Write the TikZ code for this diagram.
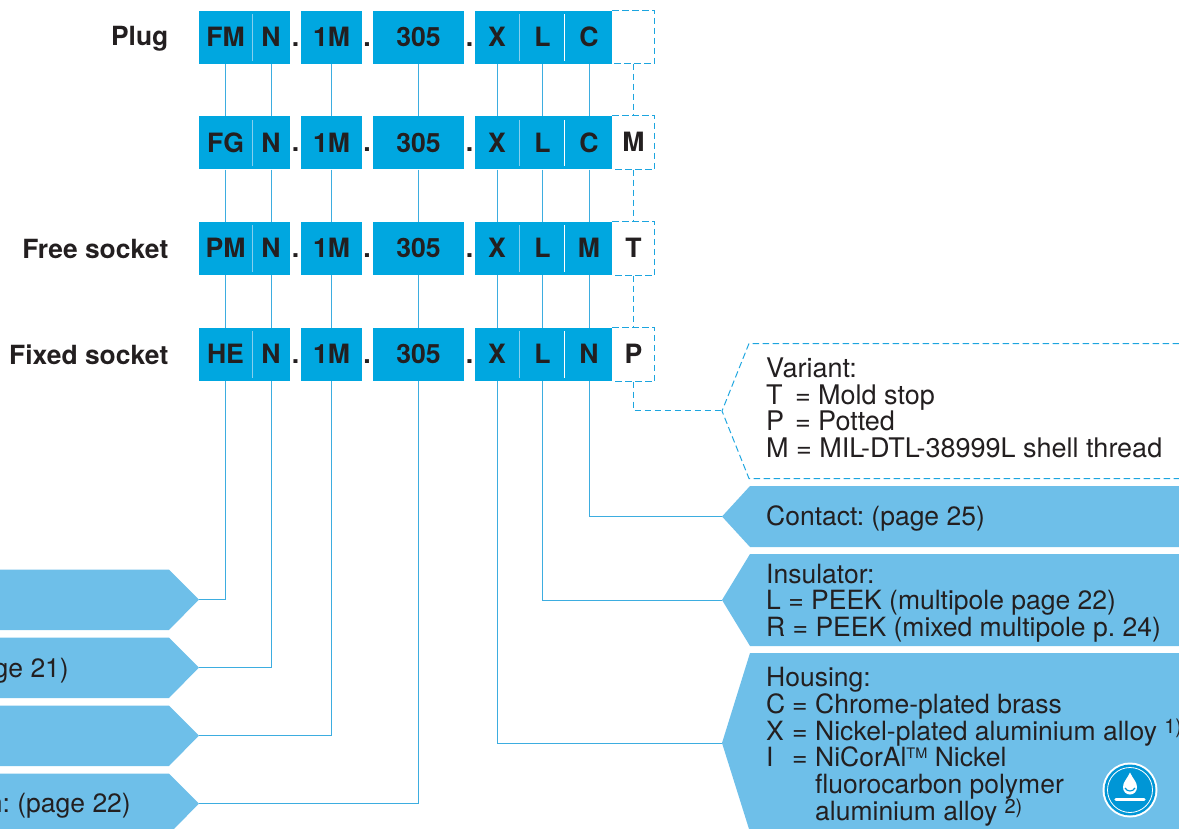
\documentclass[tikz,border=0pt]{standalone}
\usepackage{fontspec}
\setmainfont{TeX Gyre Heros}
\definecolor{boxblue}{HTML}{00A7E0}
\definecolor{tagblue}{HTML}{6EBFE9}
\definecolor{lineblue}{HTML}{3DADE0}
\definecolor{dashblue}{HTML}{1CA5DF}
\definecolor{divlight}{HTML}{86CFEE}
\definecolor{inkdark}{HTML}{231F20}
\definecolor{iconblue}{HTML}{0096D6}
\newcommand{\eqln}[2]{\makebox[26pt][l]{#1}\makebox[23pt][l]{=}#2}
\newcommand{\eqvar}[2]{\makebox[29pt][l]{#1}\makebox[23pt][l]{=}#2}
\newcommand{\supr}[1]{\smash{\raisebox{7pt}{\fontsize{20}{20}\selectfont #1}}}
\newcommand{\suptm}[1]{\smash{\raisebox{8.5pt}{\fontsize{14.5}{15}\selectfont #1}}}
\tikzset{
  cell/.style={fill=boxblue,draw=none,inner sep=0pt,minimum height=53pt,text height=18.5pt,text depth=0pt,
    font=\fontsize{26.6}{27}\selectfont\bfseries,text=inkdark},
  opencell/.style={cell,fill=none},
  dotmark/.style={inner sep=0pt,anchor=base,font=\fontsize{26.6}{27}\selectfont\bfseries,text=inkdark},
  rowlabel/.style={inner sep=0pt,anchor=base east,font=\fontsize{26.4}{27}\selectfont\bfseries,text=inkdark},
  tag/.style={fill=tagblue,draw=none},
  tagtext/.style={inner sep=0pt,anchor=base west,align=left,text=inkdark,font=\frenchspacing\fontsize{26.5}{26.75}\selectfont},
  vartext/.style={tagtext,font=\frenchspacing\fontsize{27}{26.75}\selectfont},
  tagtextr/.style={inner sep=0pt,anchor=base east,text=inkdark,font=\frenchspacing\fontsize{26.5}{26.75}\selectfont},
  wire/.style={draw=lineblue,line width=1pt},
  dashwire/.style={draw=dashblue,line width=1.3pt,dash pattern=on 6.5pt off 3.5pt},
  dashthin/.style={draw=dashblue,line width=1pt,dash pattern=on 6.5pt off 3.5pt},
}
\begin{document}
\begin{tikzpicture}[x=1pt,y=-1pt]
\useasboundingbox (0,0) rectangle (1179,829);
\clip (0,0) rectangle (1179,829);

% tags
\path[tag] (0,569.5) -- (169,569.5) -- (199,599.5) -- (169,630) -- (0,630) -- cycle;
\path[tag] (0,637.5) -- (169,637.5) -- (199,667.5) -- (169,698) -- (0,698) -- cycle;
\path[tag] (0,705.5) -- (169,705.5) -- (199,735.5) -- (169,766) -- (0,766) -- cycle;
\path[tag] (0,773.5) -- (169,773.5) -- (199,803.5) -- (174,829) -- (0,829) -- cycle;
\path[tag] (1179,486) -- (750,486) -- (722,516.5) -- (750,547) -- (1179,547) -- cycle;
\path[tag] (1179,554) -- (750,554) -- (722,600) -- (750,646) -- (1179,646) -- cycle;
\path[tag] (1179,653) -- (750,653) -- (722,743) -- (749,829) -- (1179,829) -- cycle;
\draw[dashthin] (1179,343.5) -- (749,343.5) -- (722,411) -- (749,478.5) -- (1179,478.5);

\coordinate (tipA) at (199,599.5);
\coordinate (tipB) at (199,667.5);
\coordinate (tipC) at (199,735.5);
\coordinate (tipD) at (199,803.5);
\coordinate (tipV) at (722,410.5);
\coordinate (tipK) at (722,516.5);
\coordinate (tipI) at (722,600);
\coordinate (tipH) at (722,743);

% code rows
\foreach \r/\yy/\hy/\hh/\pa/\pg/\ph in {1/37.5/37/53/FM/C/{},2/143/142.5/54/FG/C/M,3/248.5/248.5/54/PM/M/T,4/354.5/354.5/54/HE/N/P}{
  \node[cell,minimum width=53pt] (a\r) at (225.5,\yy) {\pa};
  \node[cell,minimum width=38pt] (b\r) at (271,\yy) {N};
  \node[cell,minimum width=61pt] (c\r) at (331.5,\yy) {1M};
  \node[cell,minimum width=91pt] (d\r) at (418.5,\yy) {305};
  \node[cell,minimum width=44pt] (e\r) at (497,\yy) {X};
  \node[cell,minimum width=47pt] (f\r) at (542.5,\yy) {L};
  \node[cell,minimum width=46pt] (g\r) at (589,\yy) {\pg};
  \node[opencell,minimum width=42pt,minimum height=\hh pt] (h\r) at (633.5,\hy) {\ph};
  \draw[dashwire] (h\r.north west) -- (h\r.north east) -- (h\r.south east) -- (h\r.south west);
  \draw[draw=divlight,line width=1pt] ([yshift=-3.5pt]a\r.north east) -- ([yshift=3.5pt]a\r.south east);
  \draw[draw=divlight,line width=1pt] ([yshift=-3.5pt]e\r.north east) -- ([yshift=3.5pt]e\r.south east);
  \draw[draw=white,line width=1pt] ([xshift=-1.5pt,yshift=-3.5pt]f\r.north east) -- ([xshift=-1.5pt,yshift=3.5pt]f\r.south east);
  \node[dotmark] (p\r) at (295.5,\yy+9) {.};
  \node[dotmark] (q\r) at (367,\yy+9) {.};
  \node[dotmark] (s\r) at (469.5,\yy+9) {.};
}

% vertical links between rows
\foreach \c in {a,b,c,d,e,f,g}{
  \draw[wire] (\c1) -- (\c2);
  \draw[wire] (\c2) -- (\c3);
  \draw[wire] (\c3) -- (\c4);
}
\foreach \u/\v in {1/2,2/3,3/4}{
  \draw[dashwire] (h\u.south) -- (h\v.north);
}
\draw[dashwire] (h4.south) |- (tipV);

% links to tags
\draw[wire] (a4.south) |- (tipA);
\draw[wire] (b4.south) |- (tipB);
\draw[wire] (c4.south) |- (tipC);
\draw[wire] (d4.south) |- (tipD);
\draw[wire] (e4.south) |- (tipH);
\draw[wire] (f4.south) |- (tipI);
\draw[wire] (g4.south) |- (tipK);

% row labels
\node[rowlabel] (lplug) at (168.5,46) {Plug};
\node[rowlabel] (lfree) at (168.5,258.5) {Free socket};
\node[rowlabel] (lfixed) at (168.5,364) {Fixed socket};

% tag texts
\node[tagtextr] (t21) at (69,677) {ge 21)};
\node[tagtextr] (t22) at (131,812) {n: (page 22)};
\node[vartext,anchor=north west] (tvar) at (766,357.5) {Variant:\\\eqvar{T}{Mold stop}\\\eqvar{P}{Potted}\\M = MIL-DTL-38999L shell thread};
\node[tagtext] (tcon) at (766,525) {Contact: (page 25)};
\node[tagtext,anchor=north west] (tins) at (766,563.5) {Insulator:\\L = PEEK (multipole page 22)\\R = PEEK (mixed multipole p. 24)};
\node[tagtext,anchor=north west] (thou) at (766,667) {Housing:\\\eqln{C}{Chrome-plated brass}\\\eqln{X}{Nickel-plated aluminium alloy \supr{1)}}\\\eqln{I}{NiCorAl\suptm{TM} Nickel}\\\hspace*{49pt}fluorocarbon polymer\\\hspace*{49pt}aluminium alloy \supr{2)}};

% icon
\fill[white] (1130,790) circle (27.5);
\fill[iconblue] (1130,790) circle (25.5);
\draw[white,line width=0.8pt] (1130,790) circle (22.5);
\fill[white] (1130,772.5) .. controls (1133,779) and (1137,782) .. (1137,787) .. controls (1137,791.5) and (1134,794.5) .. (1130,794.5) .. controls (1126,794.5) and (1123,791.5) .. (1123,787) .. controls (1123,782) and (1127,779) .. (1130,772.5) -- cycle;
\draw[iconblue,line width=1.2pt] (1125,788) .. controls (1127,792) and (1133,792) .. (1135,788);
\draw[white,line width=3.2pt,line cap=round] (1116,799.5) -- (1144,799.5);
\end{tikzpicture}
\end{document}
